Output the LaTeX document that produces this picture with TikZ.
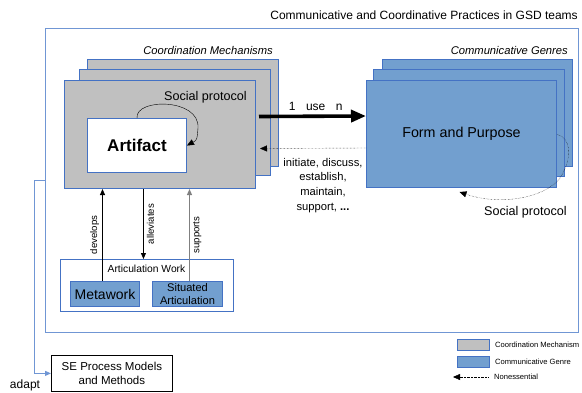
\documentclass[tikz,border=0pt]{standalone}
\usepackage{fontspec}
\setmainfont{Liberation Sans}
\usetikzlibrary{arrows.meta}
\definecolor{mechgray}{RGB}{192,192,192}
\definecolor{genreblue}{RGB}{114,159,207}
\definecolor{edgeblue}{RGB}{68,114,196}
\definecolor{frameblue}{RGB}{112,150,212}

\begin{document}
\begin{tikzpicture}[x=1pt, y=-1pt,
  mech/.style={draw=edgeblue, fill=mechgray, line width=1pt, inner sep=0pt, anchor=north west},
  genre/.style={draw=edgeblue, fill=genreblue, line width=1pt, inner sep=0pt, anchor=north west},
  plain/.style={inner sep=0pt},
  fsz/.style={font=\fontsize{#1}{#1}\selectfont},
  isz/.style={font=\fontsize{#1}{#1}\selectfont\itshape}]
  \useasboundingbox (0,0) rectangle (582,392);
  % outer frame and title
  \node[draw=frameblue, line width=0.9pt, minimum width=533pt, minimum height=304pt, anchor=north west] (frame) at (45,28) {};
  \node[plain, fsz=12, anchor=base east] (title) at (578,19.5) {Communicative and Coordinative Practices in GSD teams};
  % coordination mechanisms
  \node[mech, minimum width=191pt, minimum height=107pt] (mechback) at (87,59) {};
  \node[mech, minimum width=191pt, minimum height=106pt] (mechmid) at (79,69) {};
  \node[mech, minimum width=191pt, minimum height=108pt] (mech) at (64,80) {};
  \node[plain, isz=11.2, anchor=base east] (mechlabel) at (273,54) {Coordination Mechanisms};
  \node[plain, fsz=12.6, anchor=base east] (mechproto) at (247,100) {Social protocol};
  \node[draw=edgeblue, fill=white, line width=1pt, minimum width=99pt, minimum height=54pt, anchor=north west,
        font=\fontsize{17}{20}\selectfont\bfseries] (artifact) at (87,118) {Artifact};
  % communicative genres
  \node[genre, minimum width=190pt, minimum height=107pt] (genreback) at (382,59) {};
  \node[genre, minimum width=191pt, minimum height=107pt] (genremid) at (373,69) {};
  \node[genre, minimum width=190pt, minimum height=107pt] (genre) at (366,80) {};
  \node[plain, fsz=14.3] (purpose) at (genre.center) {Form and Purpose};
  \node[plain, isz=11.2, anchor=base east] (genrelabel) at (568,54) {Communicative Genres};
  \node[plain, fsz=12.6, anchor=base east] (genreproto) at (567,215) {Social protocol};
  % use relation
  \draw[line width=3.6pt, -{Triangle[length=15pt,width=12pt]}] ([xshift=3pt,yshift=18pt]mech.east) -- ([yshift=18pt]genre.west)
    node[plain, fsz=12, pos=0.31, above=4pt] (one) {1}
    node[plain, fsz=12, pos=0.53, above=4pt] (use) {use}
    node[plain, fsz=12, pos=0.75, above=4pt] (many) {n};
  \draw[densely dotted, -{Triangle[length=7pt,width=6pt]}] ([yshift=-14pt]genre.west) -- ([xshift=4pt,yshift=-14pt]mech.east);
  \node[plain, align=center, anchor=north, font=\fontsize{11.2}{14.6}\selectfont] (actions) at (323,158)
    {initiate, discuss,\\establish,\\maintain,\\support, \textbf{...}};
  % self loops
  \draw[-{Triangle[length=7pt,width=6pt]}] (artifact.north) .. controls (135,98) and (200,98) .. (198,128) .. controls (197,140) .. (artifact.east);
  \draw[densely dotted, -{Triangle[length=7pt,width=6pt]}] ([yshift=-0.5pt]genre.east) .. controls (572,138) and (572,160) .. (560,178)
    .. controls (545,198) and (500,206) .. ([xshift=-2pt,yshift=-4pt]genre.south);
  % articulation work
  \node[draw=edgeblue, fill=white, line width=0.9pt, minimum width=173pt, minimum height=52pt, anchor=north west] (artwork) at (60,259) {};
  \node[plain, fsz=10.3] (artlabel) at (146.5,269) {Articulation Work};
  \node[genre, minimum width=69pt, minimum height=25pt] (metawork) at (70,281) {};
  \node[plain, fsz=14] at (metawork.center) {Metawork};
  \node[genre, minimum width=70pt, minimum height=25pt] (situated) at (152,281) {};
  \node[plain, align=center, font=\fontsize{11.1}{13}\selectfont] at (situated.center) {Situated\\Articulation};
  \draw[line width=0.8pt, -{Triangle[length=6pt,width=5pt]}] ([xshift=-2.5pt]metawork.north) -- ([xshift=-2.5pt]metawork.north |- mech.south)
    node[plain, fsz=9.6, midway, rotate=90, above=3pt] (develops) {develops};
  \draw[line width=0.8pt, -{Triangle[length=6pt,width=5pt]}] ([xshift=-3.5pt]artwork.north |- mech.south) -- ([xshift=-3.5pt]artwork.north)
    node[plain, fsz=9.6, midway, rotate=90, below=3pt] (alleviates) {alleviates};
  \draw[gray, line width=1.2pt, -{Triangle[length=6pt,width=5pt]}] ([xshift=2pt]situated.north) -- ([xshift=2pt]situated.north |- mech.south)
    node[plain, fsz=9.6, black, midway, rotate=90, below=3pt] (supports) {supports};
  % adaptation of process models
  \node[draw, line width=0.8pt, minimum width=121pt, minimum height=36pt, anchor=north west, align=center,
        font=\fontsize{11.5}{14}\selectfont] (se) at (51,355) {SE Process Models\\and Methods};
  \draw[frameblue, line width=0.9pt, -{Triangle[length=6pt,width=5pt]}] (frame.west) -- ++(-11,0) |- (se.west);
  \node[plain, fsz=12] (adapt) at (25,385) {adapt};
  % legend
  \node[mech, minimum width=32pt, minimum height=11pt] (keymech) at (457,339) {};
  \node[plain, fsz=7.6, anchor=west] at ([xshift=5pt]keymech.east) {Coordination Mechanism};
  \node[genre, minimum width=32pt, minimum height=11pt] (keygenre) at (457,356) {};
  \node[plain, fsz=7.6, anchor=west] at ([xshift=5pt]keygenre.east) {Communicative Genre};
  \coordinate (keyfrom) at (488,377);
  \coordinate (keyto) at (453,377);
  \draw[densely dotted, -{Triangle[length=7pt,width=6pt]}] (keyfrom) -- (keyto);
  \node[plain, fsz=7.6, anchor=west] at ([xshift=6pt]keyfrom) {Nonessential};
\end{tikzpicture}
\end{document}
